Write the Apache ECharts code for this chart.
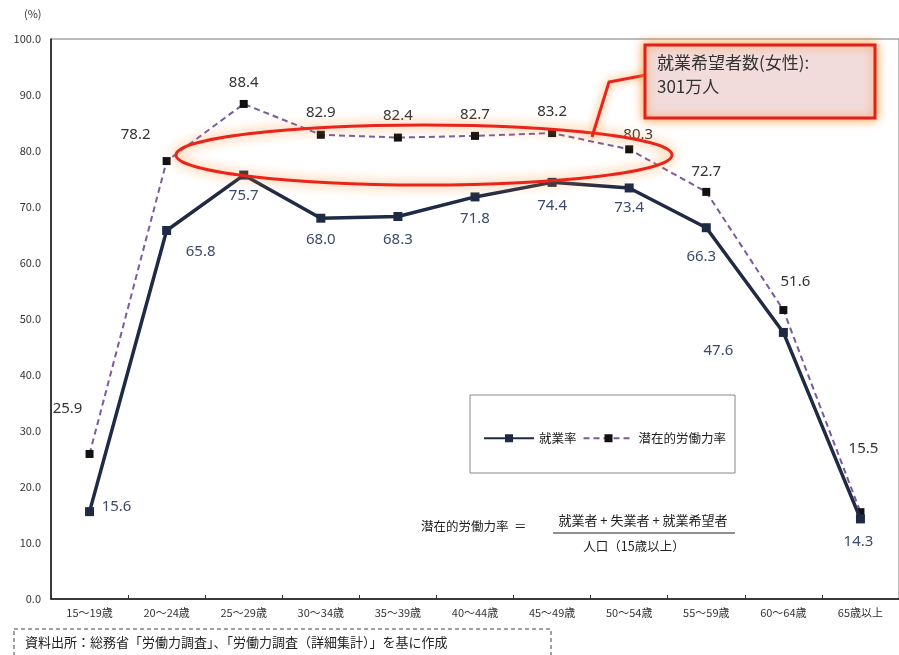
<!DOCTYPE html>
<html>
<head>
<meta charset="utf-8">
<script src="https://cdn.jsdelivr.net/npm/echarts@6/dist/echarts.min.js"></script>
<style>html,body{margin:0;padding:0;background:#fff;}#c{width:899px;height:655px;}</style>
</head>
<body>
<div id="c"></div>
<script>
const categories = ['15～19歳','20～24歳','25～29歳','30～34歳','35～39歳','40～44歳','45～49歳','50～54歳','55～59歳','60～64歳','65歳以上'];
const employmentRate = [15.6, 65.8, 75.7, 68.0, 68.3, 71.8, 74.4, 73.4, 66.3, 47.6, 14.3];
const potentialRate  = [25.9, 78.2, 88.4, 82.9, 82.4, 82.7, 83.2, 80.3, 72.7, 51.6, 15.5];
const yTicks = [0, 10, 20, 30, 40, 50, 60, 70, 80, 90, 100];

// label offsets (layout only)
const empOffsets = [[27,-5],[34,21],[0,21],[0,22],[0,23],[0,22],[0,23],[0,20],[-5,29],[-65,18],[-2,23]];
const potOffsets = [[-22,-45],[-31,-26],[0,-21],[0,-22],[0,-22],[0,-21],[0,-21],[9,-15],[0,-20],[12,-28],[3,-63]];

const FONT = '"Noto Sans CJK JP", "Noto Sans", sans-serif';
const chart = echarts.init(document.getElementById('c'));

function withLabels(values, offsets, color) {
  return values.map((v, i) => ({
    value: v,
    label: { show: true, position: 'inside', offset: offsets[i], color: color,
             fontSize: 15, fontFamily: '"Noto Sans", "Open Sans", sans-serif',
             formatter: (p) => Number(p.value).toFixed(1) }
  }));
}

const option = {
  animation: false,
  backgroundColor: '#fff',
  grid: { left: 51, top: 39, width: 851, height: 560, show: true, borderColor: '#777', borderWidth: 1 },
  legend: {
    left: 478, top: 427, itemWidth: 50, itemHeight: 10, itemGap: 6,
    textStyle: { fontSize: 12.5, color: '#222', fontFamily: FONT },
    data: ['就業率', '潜在的労働力率']
  },
  xAxis: {
    type: 'category', data: categories, boundaryGap: true,
    axisLine: { lineStyle: { color: '#111', width: 1.5 } },
    axisTick: { show: true, inside: true, length: 4, lineStyle: { color: '#333' } },
    axisLabel: { fontSize: 11, color: '#333', margin: 8, fontFamily: FONT, interval: 0 },
    splitLine: { show: false }
  },
  yAxis: {
    type: 'value', min: yTicks[0], max: yTicks[yTicks.length - 1], interval: 10,
    axisLine: { show: true, lineStyle: { color: '#111', width: 1.5 } },
    axisTick: { show: false },
    axisLabel: { fontSize: 11, color: '#333', margin: 10, fontFamily: FONT,
                 formatter: (v) => v.toFixed(1) },
    splitLine: { show: false }
  },
  series: [
    {
      name: '潜在的労働力率', type: 'line', z: 3,
      data: withLabels(potentialRate, potOffsets, '#333'),
      symbol: 'rect', symbolSize: 8,
      lineStyle: { color: '#7a5c9e', width: 2, type: [6, 4] },
      itemStyle: { color: '#111' }
    },
    {
      name: '就業率', type: 'line', z: 4,
      data: withLabels(employmentRate, empOffsets, '#3b4a6b'),
      symbol: 'rect', symbolSize: 9,
      lineStyle: { color: '#1f2a44', width: 3.5 },
      itemStyle: { color: '#1f2a44' }
    }
  ],
  graphic: [
    { type: 'text', left: 24, top: 8, style: { text: '(%)', fontSize: 11, fill: '#333', fontFamily: FONT } },
    // legend box
    { type: 'rect', shape: { x: 470, y: 395, width: 265, height: 78 },
      style: { fill: 'transparent', stroke: '#888', lineWidth: 1 }, z: 1 },
    // formula
    { type: 'text', style: { text: '潜在的労働力率  ＝', x: 421, y: 526, fontSize: 12.5, fill: '#222', fontFamily: FONT, verticalAlign: 'middle' } },
    { type: 'text', style: { text: '就業者 + 失業者 + 就業希望者', x: 643, y: 520, fontSize: 13, fill: '#222', fontFamily: FONT, align: 'center', verticalAlign: 'middle' } },
    { type: 'line', shape: { x1: 553, y1: 533, x2: 735, y2: 533 }, style: { stroke: '#222', lineWidth: 1.2 } },
    { type: 'text', style: { text: '人口（15歳以上）', x: 634, y: 546, fontSize: 12.5, fill: '#222', fontFamily: FONT, align: 'center', verticalAlign: 'middle' } },
    // highlight ellipse
    { type: 'ellipse', shape: { cx: 424, cy: 155, rx: 248, ry: 30 }, z: 10,
      style: { fill: 'transparent', stroke: '#e8241b', lineWidth: 3, shadowBlur: 12, shadowColor: 'rgba(255,140,40,0.95)' } },
    // leader line
    { type: 'polyline', shape: { points: [[592, 137], [609, 82], [646, 75]] }, z: 10,
      style: { fill: 'none', stroke: '#e8241b', lineWidth: 3, shadowBlur: 8, shadowColor: 'rgba(255,140,40,0.9)' } },
    // callout box
    { type: 'rect', shape: { x: 645, y: 45, width: 230, height: 73 }, z: 10,
      style: { fill: '#f2dcdb', stroke: '#e0201b', lineWidth: 3, shadowBlur: 10, shadowColor: 'rgba(255,140,40,0.9)' } },
    { type: 'text', z: 11, style: { text: '就業希望者数(女性):\n301万人', x: 657, y: 51, fontSize: 17, lineHeight: 24, fill: '#333', fontFamily: FONT } },
    // source box
    { type: 'rect', shape: { x: 14, y: 629, width: 537, height: 40 },
      style: { fill: 'transparent', stroke: '#444', lineWidth: 1, lineDash: [4, 3] } },
    { type: 'text', style: { text: '資料出所：総務省「労働力調査」、「労働力調査（詳細集計）」を基に作成', x: 25, y: 642, fontSize: 13, fill: '#222', fontFamily: FONT, verticalAlign: 'middle' } }
  ]
};
chart.setOption(option);
</script>
</body>
</html>
